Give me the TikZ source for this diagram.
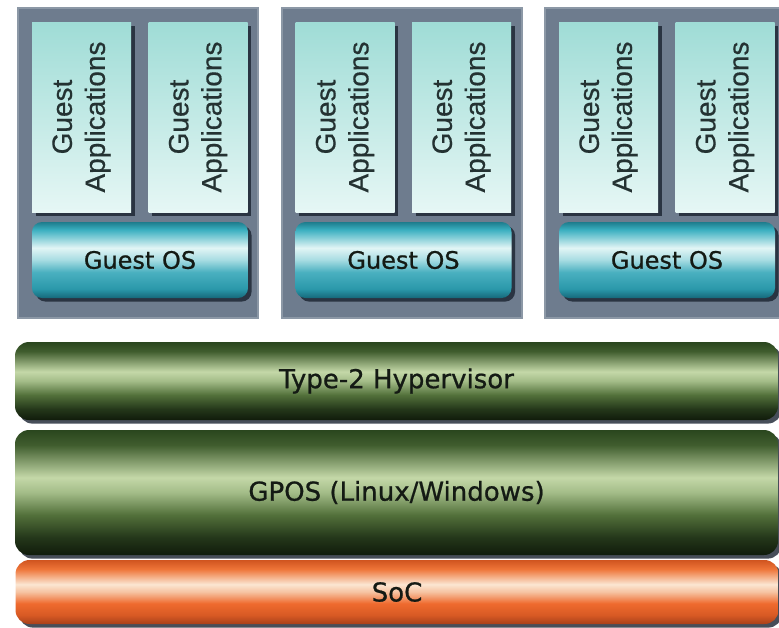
\documentclass[tikz,border=0pt]{standalone}
\usepackage{fontspec}
\setmainfont{DejaVu Sans}[FakeBold=0.8]
\newfontfamily\appfont{Liberation Sans}[FakeBold=0.5]
\usetikzlibrary{shadows}
% layer colours
\definecolor{gtop}{HTML}{2A461E}
\definecolor{gtopb}{HTML}{405D2E}
\definecolor{glight}{HTML}{C4D8A8}
\definecolor{gsoft}{HTML}{A3BC88}
\definecolor{gmid}{HTML}{52703A}
\definecolor{gdeep}{HTML}{24371A}
\definecolor{gbot}{HTML}{101B0B}
\definecolor{otop}{HTML}{D0541F}
\definecolor{otopb}{HTML}{EE7438}
\definecolor{olight}{HTML}{FBE6D2}
\definecolor{osoft}{HTML}{F6C2A0}
\definecolor{omid}{HTML}{EF6A2E}
\definecolor{odeep}{HTML}{D85A24}
\definecolor{obot}{HTML}{A8401A}
\definecolor{ttop}{HTML}{1E7C8C}
\definecolor{ttopb}{HTML}{3AAFC0}
\definecolor{tlight}{HTML}{E2F5F5}
\definecolor{tsoft}{HTML}{A6DCE2}
\definecolor{tmid}{HTML}{4AB0C0}
\definecolor{tdeep}{HTML}{2A98AA}
\definecolor{tbot}{HTML}{16687A}
\definecolor{appa}{HTML}{9FDCD6}
\definecolor{appb}{HTML}{E6F7F5}
\definecolor{vmfill}{HTML}{6E7C8E}
\definecolor{vmedge}{HTML}{8C98A6}
\definecolor{shadowc}{HTML}{1A2230}
\definecolor{ink}{HTML}{141A14}
\definecolor{appink}{HTML}{243232}
\pgfdeclareverticalshading{greenbar}{100bp}{color(0bp)=(gbot); color(25bp)=(gbot); color(32bp)=(gdeep); color(41bp)=(gmid); color(50bp)=(gsoft); color(56bp)=(glight); color(69bp)=(gtopb); color(75bp)=(gtop); color(100bp)=(gtop)}
\pgfdeclareverticalshading{orangebar}{100bp}{color(0bp)=(obot); color(25bp)=(obot); color(32bp)=(odeep); color(41bp)=(omid); color(50bp)=(osoft); color(56bp)=(olight); color(68bp)=(otopb); color(75bp)=(otop); color(100bp)=(otop)}
\pgfdeclareverticalshading{tealbar}{100bp}{color(0bp)=(tbot); color(25bp)=(tbot); color(31bp)=(tdeep); color(42bp)=(tmid); color(50bp)=(tsoft); color(58bp)=(tlight); color(70bp)=(ttopb); color(75bp)=(ttop); color(100bp)=(ttop)}
\tikzset{
  shadowed/.style={drop shadow={shadow xshift=1.8pt, shadow yshift=-1.8pt, fill=shadowc, opacity=.8}},
  vmbox/.style={fill=vmfill, draw=vmedge, line width=1pt, inner sep=0pt, minimum width=120pt, minimum height=155pt},
  appbox/.style={shadowed, shade, top color=appa, bottom color=appb, inner sep=0pt, minimum width=49.5pt, minimum height=95pt},
  applab/.style={rotate=90, align=center, text=appink, font=\appfont\fontsize{14}{16.5}\selectfont},
  osbox/.style={shadowed, shade, shading=tealbar, rounded corners=5pt, inner sep=0pt, minimum width=108pt, minimum height=38pt, text=ink, font=\fontsize{12}{14}\selectfont},
  layer/.style={shadowed, shade, shading=#1, rounded corners=7pt, inner sep=0pt, minimum width=381.5pt, text=ink, font=\fontsize{13}{15}\selectfont},
}

\begin{document}
\begin{tikzpicture}[x=0.5pt, y=-0.5pt]
  \useasboundingbox[fill=white] (0,0) rectangle (779,627);
  % three guest machines
  \foreach \i in {0,1,2} {
    \pgfmathsetmacro\xo{18+263.5*\i}
    \node[vmbox] (vm\i) at (\xo+120,163) {};
    \node[appbox, label={[applab]center:{Guest\\Applications}}] (appa\i) at (\xo+63.5,117) {};
    \node[appbox, label={[applab]center:{Guest\\Applications}}] (appb\i) at (\xo+180,117) {};
    \node[osbox] (os\i) at (\xo+122,260) {Guest OS};
  }
  % host stack
  \node[layer=greenbar, minimum height=39pt] (hv) at (396.5,381) {Type-2 Hypervisor};
  \node[layer=greenbar, minimum height=62.5pt] (gpos) at (396.5,492.5) {GPOS (Linux/Windows)};
  \node[layer=orangebar, minimum height=32pt] (soc) at (397,592) {SoC};
\end{tikzpicture}
\end{document}
